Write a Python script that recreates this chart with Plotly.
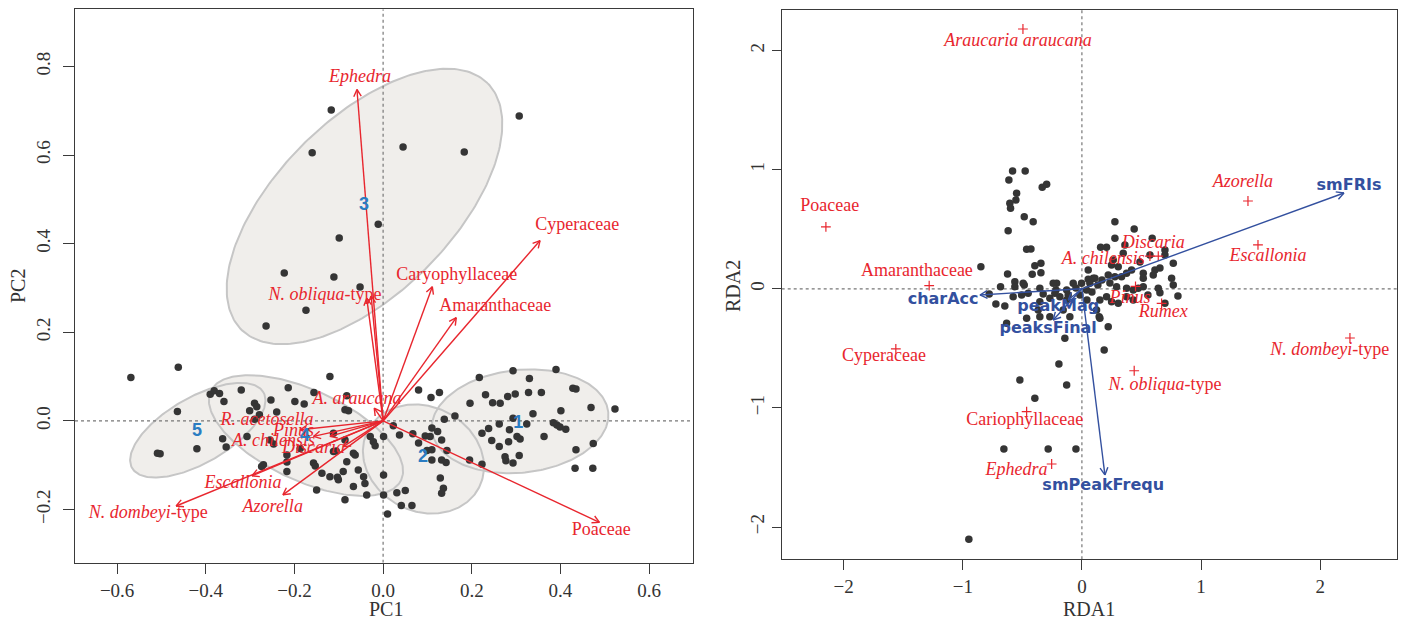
import numpy as np
import plotly.graph_objects as go

# ---------------- PCA (left panel) ----------------
pc1 = [-0.569, -0.462, -0.464, -0.509, -0.503, -0.420, -0.390, -0.381, -0.369, -0.359, -0.362, -0.354, -0.320, -0.307,
       -0.290, -0.285, -0.301, -0.279, -0.290, -0.253, -0.240, -0.214, -0.199, -0.178, -0.156, -0.120, -0.082, -0.086, -0.078,
       -0.255, -0.247, -0.270, -0.274, -0.217, -0.217, -0.217, -0.187, -0.157, -0.138, -0.120, -0.103, -0.101, -0.150, -0.082,
       -0.067, -0.063, -0.112, -0.086, -0.112, -0.029, -0.022, -0.018, -0.056, -0.044, -0.041, -0.090, -0.067, -0.086, -0.037,
       0.001, 0.001, 0.001, 0.010, -0.153, -0.106,
       0.023, 0.037, 0.067, 0.095, 0.110, 0.123, 0.106, 0.132, 0.080, 0.099, 0.110, 0.144, 0.132, 0.110, 0.142, 0.129, 0.136,
       0.132, 0.031, 0.050, 0.041, 0.065, 0.080, 0.108, 0.127, 0.162, 0.138, 0.195, 0.223,
       0.217, 0.293, 0.390, 0.330, 0.231, 0.196, 0.247, 0.264, 0.281, 0.298, 0.328, 0.357, 0.428, 0.435, 0.469, 0.523, 0.401,
       0.338, 0.293, 0.262, 0.238, 0.223, 0.285, 0.324, 0.384, 0.392, 0.399, 0.412, 0.363, 0.302, 0.309, 0.245, 0.283, 0.262,
       0.474, 0.435, 0.275, 0.277, 0.293, 0.307, 0.433, 0.473,
       -0.117, -0.160, 0.045, 0.183, 0.307, -0.011, -0.099, -0.223, -0.111, -0.052, -0.174, -0.264]
pc2 = [0.098, 0.121, 0.021, -0.073, -0.074, -0.063, 0.060, 0.068, 0.062, 0.044, -0.040, -0.059, 0.070, -0.035,
       0.040, 0.032, 0.023, 0.014, 0.004, 0.047, 0.020, 0.075, 0.044, 0.038, 0.064, 0.100, 0.057, 0.025, 0.023,
       -0.043, -0.052, -0.099, -0.103, -0.077, -0.093, -0.114, -0.062, -0.095, -0.118, -0.126, -0.127, -0.133, -0.156, -0.092,
       -0.073, -0.077, -0.028, -0.043, -0.069, -0.035, -0.047, -0.056, -0.111, -0.126, -0.141, -0.114, -0.148, -0.178, -0.167,
       -0.122, -0.167, -0.035, -0.210, -0.102, -0.068,
       -0.011, -0.032, -0.029, -0.034, -0.016, -0.024, -0.035, -0.043, -0.050, -0.067, -0.065, -0.067, -0.088, -0.088, -0.094,
       -0.129, -0.152, -0.163, -0.162, -0.157, -0.191, -0.191, 0.070, 0.053, 0.064, 0.011, 0.004, -0.088, -0.098,
       0.098, 0.113, 0.116, 0.096, 0.059, 0.040, 0.041, 0.040, 0.055, 0.061, 0.064, 0.064, 0.074, 0.072, 0.030, 0.027, 0.023,
       0.016, 0.006, -0.007, -0.017, -0.028, -0.020, -0.007, -0.004, -0.009, -0.014, -0.019, -0.035, -0.035, -0.041, -0.044,
       -0.047, -0.058, -0.051, -0.065, -0.081, -0.090, -0.095, -0.078, -0.107, -0.107,
       0.702, 0.605, 0.618, 0.607, 0.688, 0.444, 0.413, 0.334, 0.325, 0.302, 0.250, 0.214]

# cluster ellipses: centre, semi-axes, rotation (degrees)
groups = ["1", "2", "3", "4", "5"]
grp_cx = [0.309, 0.091, -0.042, -0.174, -0.418]
grp_cy = [-0.001, -0.086, 0.484, -0.033, -0.021]
grp_a = [0.200, 0.141, 0.393, 0.237, 0.171]
grp_b = [0.116, 0.118, 0.197, 0.102, 0.074]
grp_ang = [6, -27, 45, -25, 30]
grp_lab_x = [0.305, 0.090, -0.043, -0.176, -0.420]
grp_lab_y = [-0.005, -0.083, 0.487, -0.036, -0.025]

# species loadings (arrow tips) and label positions
pca_species = ["<i>Ephedra</i>", "<i>N. obliqua</i>-type", "", "Caryophyllaceae", "Amaranthaceae", "Cyperaceae",
               "Poaceae", "<i>A. araucana</i>", "<i>R. acetosella</i>", "<i>A. chilensis</i>", "<i>Pinus</i>",
               "<i>Discaria</i>", "<i>Escallonia</i>", "<i>N. dombeyi</i>-type", "<i>Azorella</i>"]
pca_tip_x = [-0.059, -0.037, -0.027, 0.111, 0.165, 0.354, 0.488, -0.020, -0.187, -0.157, -0.120, -0.090, -0.296, -0.467, -0.226]
pca_tip_y = [0.748, 0.277, 0.282, 0.303, 0.233, 0.407, -0.229, 0.029, -0.020, -0.035, -0.035, -0.058, -0.124, -0.192, -0.167]
pca_lab_x = [-0.052, -0.131, -0.027, 0.166, 0.253, 0.438, 0.492, -0.059, -0.262, -0.247, -0.202, -0.157, -0.316, -0.530, -0.249]
pca_lab_y = [0.775, 0.284, 0.282, 0.328, 0.258, 0.440, -0.248, 0.049, 0.000, -0.047, -0.024, -0.062, -0.142, -0.210, -0.195]

pc1_ticks = [-0.6, -0.4, -0.2, 0.0, 0.2, 0.4, 0.6]
pc2_ticks = [-0.2, 0.0, 0.2, 0.4, 0.6, 0.8]

# ---------------- RDA (right panel) ----------------
rda1 = [-0.582, -0.476, -0.613, -0.333, -0.296, -0.548, -0.554, -0.605, -0.599, -0.484, -0.409, -0.619, -0.464, -0.428,
        -0.344, -0.395, -0.344, -0.417, -0.848, -0.778, -0.683, -0.563, -0.563, -0.484, -0.722, -0.647, -0.577, -0.506,
        -0.353, -0.325, -0.212, -0.218, -0.128, -0.073, -0.115, -0.003, 0.053, 0.095, 0.067, 0.039,
        0.277, 0.439, 0.277, 0.590, 0.157, 0.207, 0.347, 0.263, 0.249, 0.305, 0.053, 0.697, 0.697, 0.767, 0.613, 0.599,
        0.515, 0.515, 0.753, 0.767, 0.109, 0.221, 0.277, 0.333, 0.375, 0.417, 0.291, 0.375, 0.431, 0.473, 0.641, 0.655,
        0.515, 0.207, 0.249, 0.305, 0.123, 0.145, 0.697, 0.375, 0.431,
        -0.227, -0.185, -0.128, -0.367, -0.353, -0.464, -0.632, -0.269, -0.157, -0.101, -0.624, -0.493, -0.451, -0.353,
        -0.241, -0.269, -0.143, 0.221, 0.151, 0.187, -0.193, -0.521, -0.128, -0.395, -0.655, -0.283, -0.050, -0.949,
        -0.050, -0.017, 0.084, 0.134, 0.168, 0.235, 0.151, 0.042, 0.571, 0.487, 0.361, 0.655, 0.554, 0.806]
rda2 = [0.989, 0.989, 0.914, 0.852, 0.877, 0.802, 0.746, 0.718, 0.676, 0.605, 0.563, 0.488, 0.332, 0.334, 0.214, 0.194,
        0.135, 0.122, 0.186, -0.044, 0.018, 0.060, 0.018, 0.032, -0.128, -0.144, -0.066, -0.052, 0.004, -0.044, 0.046,
        -0.010, -0.010, 0.046, -0.052, 0.046, 0.080, 0.088, 0.046, -0.010,
        0.563, 0.502, 0.424, 0.424, 0.348, 0.348, 0.298, 0.242, 0.200, 0.186, 0.158, 0.326, 0.284, 0.214, 0.158, 0.116,
        0.130, 0.088, 0.088, 0.032, 0.088, 0.116, 0.102, 0.102, 0.130, 0.158, 0.018, 0.004, -0.010, 0.004, 0.004, -0.033,
        0.018, -0.066, -0.108, -0.122, -0.178, -0.234, -0.122, -0.066, -0.094,
        -0.038, -0.066, -0.094, -0.178, -0.234, -0.248, -0.290, -0.234, -0.178, -0.234, 0.124, 0.046, -0.038, -0.108,
        0.046, -0.080, -0.416, -0.318, -0.248, -0.514, -0.631, -0.766, -0.808, -0.919, -1.345, -1.345, -1.345, -2.103,
        0.007, -0.052, -0.027, 0.032, 0.074, 0.049, -0.094, -0.094, 0.284, 0.225, 0.368, 0.175, -0.052, -0.060]

rda_species = ["<i>Araucaria araucana</i>", "Poaceae", "Amaranthaceae", "Cyperaceae", "Cariophyllaceae",
               "<i>Ephedra</i>", "<i>N. obliqua</i>-type", "<i>N. dombeyi</i>-type", "<i>Escallonia</i>",
               "<i>Azorella</i>", "<i>A. chilensis</i>", "<i>Discaria</i>", "<i>Pinus</i>", "<i>Rumex</i>"]
rda_sp_x = [-0.495, -2.149, -1.282, -1.562, -0.464, -0.254, 0.439, 2.250, 1.478, 1.394, 0.571, 0.641, 0.450, 0.669]
rda_sp_y = [2.181, 0.519, 0.026, -0.505, -1.032, -1.471, -0.688, -0.413, 0.368, 0.737, 0.275, 0.275, 0.020, -0.122]
rda_lab_x = [-0.537, -2.116, -1.385, -1.662, -0.479, -0.548, 0.697, 2.080, 1.562, 1.352, 0.179, 0.598, 0.403, 0.683]
rda_lab_y = [2.080, 0.687, 0.149, -0.565, -1.107, -1.527, -0.816, -0.520, 0.275, 0.889, 0.242, 0.376, -0.080, -0.200]

env_vars = ["smFRIs", "charAcc", "peakMag", "peaksFinal", "smPeakFrequ"]
env_tip_x = [2.200, -0.856, -0.115, -0.241, 0.193]
env_tip_y = [0.804, -0.052, -0.094, -0.262, -1.563]
env_lab_x = [2.242, -1.165, -0.199, -0.283, 0.179]
env_lab_y = [0.866, -0.094, -0.150, -0.340, -1.656]

rda_ticks = [-2, -1, 0, 1, 2]

# ---------------- styling ----------------
RED = "#e8262e"
BLUE = "#33509f"
GRP_BLUE = "#2a7cc2"
DOT = "#353535"
AXIS = "#3a3a3a"
SERIF = "Liberation Serif"

L_XR = [-0.695, 0.699]
L_YR = [-0.320, 0.929]
R_XR = [-2.52, 2.645]
R_YR = [-2.271, 2.343]


def ellipse(cx, cy, a, b, ang_deg, n=240):
    t = np.linspace(0, 2 * np.pi, n)
    th = np.deg2rad(ang_deg)
    x = cx + a * np.cos(t) * np.cos(th) - b * np.sin(t) * np.sin(th)
    y = cy + a * np.cos(t) * np.sin(th) + b * np.sin(t) * np.cos(th)
    return x, y


def arrow_paths(tx, ty, head, spread=np.deg2rad(28)):
    xs, ys = [], []
    for x1, y1 in zip(tx, ty):
        ang = np.arctan2(y1, x1)
        xs += [0, x1, None]
        ys += [0, y1, None]
        for s in (spread, -spread):
            xs += [x1, x1 + head * np.cos(ang + np.pi + s), None]
            ys += [y1, y1 + head * np.sin(ang + np.pi + s), None]
    return xs, ys


fig = go.Figure()

# ellipse fills, then outlines on top so overlapping rims stay visible
for cx, cy, a, b, ang in zip(grp_cx, grp_cy, grp_a, grp_b, grp_ang):
    ex, ey = ellipse(cx, cy, a, b, ang)
    fig.add_trace(go.Scatter(x=ex, y=ey, mode="lines", fill="toself", fillcolor="#f0eeeb",
                             line=dict(width=0), hoverinfo="skip", xaxis="x", yaxis="y"))
for cx, cy, a, b, ang in zip(grp_cx, grp_cy, grp_a, grp_b, grp_ang):
    ex, ey = ellipse(cx, cy, a, b, ang)
    fig.add_trace(go.Scatter(x=ex, y=ey, mode="lines", line=dict(color="#c6c6c6", width=2),
                             hoverinfo="skip", xaxis="x", yaxis="y"))

# dotted zero lines
for xa, ya, xr, yr in (("x", "y", L_XR, L_YR), ("x2", "y2", R_XR, R_YR)):
    fig.add_trace(go.Scatter(x=[xr[0], xr[1]], y=[0, 0], mode="lines",
                             line=dict(color="#777777", width=1.2, dash="dot"), xaxis=xa, yaxis=ya))
    fig.add_trace(go.Scatter(x=[0, 0], y=[yr[0], yr[1]], mode="lines",
                             line=dict(color="#777777", width=1.2, dash="dot"), xaxis=xa, yaxis=ya))

# site scores
fig.add_trace(go.Scatter(x=pc1, y=pc2, mode="markers", marker=dict(color=DOT, size=7.5),
                         xaxis="x", yaxis="y"))
fig.add_trace(go.Scatter(x=rda1, y=rda2, mode="markers", marker=dict(color=DOT, size=7.5),
                         xaxis="x2", yaxis="y2"))

# species arrows (PCA)
ax_, ay_ = arrow_paths(pca_tip_x, pca_tip_y, head=0.018)
fig.add_trace(go.Scatter(x=ax_, y=ay_, mode="lines", line=dict(color=RED, width=1.4),
                         xaxis="x", yaxis="y"))
fig.add_trace(go.Scatter(x=pca_lab_x, y=pca_lab_y, text=pca_species, mode="text",
                         textfont=dict(family=SERIF, size=18, color=RED), xaxis="x", yaxis="y"))
fig.add_trace(go.Scatter(x=grp_lab_x, y=grp_lab_y, text=["<b>%s</b>" % g for g in groups], mode="text",
                         textfont=dict(family="Liberation Sans", size=18, color=GRP_BLUE), xaxis="x", yaxis="y"))

# RDA species crosses and labels
fig.add_trace(go.Scatter(x=rda_sp_x, y=rda_sp_y, mode="markers",
                         marker=dict(symbol="cross-thin", size=7, line=dict(color=RED, width=1.2)),
                         xaxis="x2", yaxis="y2"))
fig.add_trace(go.Scatter(x=rda_lab_x, y=rda_lab_y, text=rda_species, mode="text",
                         textfont=dict(family=SERIF, size=18, color=RED), xaxis="x2", yaxis="y2"))

# environmental vectors (RDA)
bx, by = arrow_paths(env_tip_x, env_tip_y, head=0.07)
fig.add_trace(go.Scatter(x=bx, y=by, mode="lines", line=dict(color=BLUE, width=1.4),
                         xaxis="x2", yaxis="y2"))
fig.add_trace(go.Scatter(x=env_lab_x, y=env_lab_y, text=["<b>%s</b>" % v for v in env_vars], mode="text",
                         textfont=dict(family="DejaVu Sans", size=16, color=BLUE), xaxis="x2", yaxis="y2"))

tickfont = dict(family=SERIF, size=19, color="#333333")
axis_common = dict(showgrid=False, zeroline=False, showline=True, mirror=True, linecolor=AXIS, linewidth=1.3,
                   ticks="outside", tickcolor=AXIS, tickwidth=1.2, tickfont=tickfont)

fig.update_layout(
    width=1405, height=627, autosize=False,
    margin=dict(l=0, r=0, t=0, b=0),
    paper_bgcolor="white", plot_bgcolor="white",
    showlegend=False,
    xaxis=dict(domain=[75 / 1405, 693 / 1405], range=L_XR, tickvals=pc1_ticks, tickformat=".1f",
               anchor="y", ticklen=10, ticklabelstandoff=0, **axis_common),
    yaxis=dict(domain=[(627 - 562.7) / 627, (627 - 9.3) / 627], range=L_YR, tickvals=pc2_ticks, tickformat=".1f",
               anchor="x", tickangle=-90, ticklen=11, ticklabelstandoff=5, **axis_common),
    xaxis2=dict(domain=[781.7 / 1405, 1397 / 1405], range=R_XR, tickvals=rda_ticks,
                anchor="y2", ticklen=10, ticklabelstandoff=0, **axis_common),
    yaxis2=dict(domain=[(627 - 559.3) / 627, (627 - 9.7) / 627], range=R_YR, tickvals=rda_ticks,
                anchor="x2", tickangle=-90, ticklen=9, ticklabelstandoff=0, **axis_common),
)

title_font = dict(family=SERIF, size=20, color="#333333")
for txt, px, py, rot in (("PC1", 386, 609, 0), ("PC2", 18, 286, -90),
                         ("RDA1", 1089, 609, 0), ("RDA2", 733, 286, -90)):
    fig.add_annotation(text=txt, xref="paper", yref="paper", x=px / 1405, y=1 - py / 627,
                       xanchor="center", yanchor="middle", showarrow=False, font=title_font, textangle=rot)

fig.write_html("out.html")
